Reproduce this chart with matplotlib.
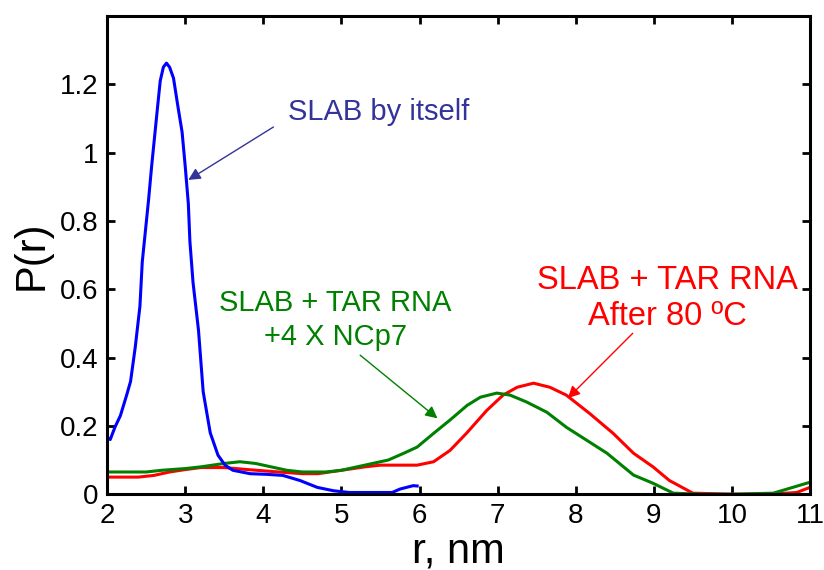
import matplotlib
matplotlib.use('Agg')
import matplotlib.pyplot as plt
from matplotlib.ticker import FuncFormatter

plt.rcParams['font.family'] = ['Liberation Sans', 'DejaVu Sans']

# SLAB by itself
r_blue = [2.0, 2.04, 2.1, 2.17, 2.25, 2.3, 2.36, 2.42, 2.45, 2.53, 2.57, 2.64,
          2.68, 2.72, 2.76, 2.8, 2.85, 2.91, 2.96, 3.0, 3.04, 3.06, 3.1, 3.17,
          3.23, 3.32, 3.42, 3.51, 3.61, 3.83, 4.05, 4.25, 4.47, 4.69, 4.9,
          5.1, 5.4, 5.65, 5.75, 5.92, 5.97]
p_blue = [0.167, 0.16, 0.196, 0.23, 0.29, 0.33, 0.43, 0.55, 0.68, 0.86, 0.96,
          1.12, 1.21, 1.25, 1.262, 1.25, 1.218, 1.13, 1.06, 0.96, 0.85, 0.74,
          0.62, 0.48, 0.30, 0.18, 0.114, 0.085, 0.07, 0.06, 0.058, 0.055,
          0.04, 0.02, 0.01, 0.005, 0.005, 0.005, 0.015, 0.025, 0.024]

# SLAB + TAR RNA + 4 X NCp7
r_green = [2.0, 2.5, 2.7, 3.0, 3.2, 3.5, 3.7, 3.9, 4.1, 4.3, 4.5, 4.8, 5.0,
           5.3, 5.6, 5.8, 5.97, 6.18, 6.39, 6.61, 6.78, 6.99, 7.16, 7.37, 7.63,
           7.88, 8.14, 8.4, 8.74, 8.99, 9.25, 9.6, 10.0, 10.53, 10.78, 11.0]
p_green = [0.065, 0.065, 0.07, 0.075, 0.08, 0.09, 0.095, 0.09, 0.08, 0.07,
           0.065, 0.065, 0.07, 0.085, 0.1, 0.12, 0.138, 0.178, 0.217, 0.26,
           0.284, 0.296, 0.29, 0.27, 0.24, 0.196, 0.158, 0.12, 0.056, 0.032,
           0.003, 0.0, 0.0, 0.003, 0.02, 0.035]

# SLAB + TAR RNA after 80 C
r_red = [2.0, 2.4, 2.6, 2.8, 3.0, 3.2, 3.5, 3.8, 4.2, 4.5, 4.7, 5.0, 5.3, 5.5,
         5.97, 6.18, 6.39, 6.6, 6.86, 7.07, 7.25, 7.46, 7.67, 7.88, 8.18, 8.48,
         8.74, 8.99, 9.2, 9.5, 10.0, 10.5, 10.83, 11.0]
p_red = [0.05, 0.05, 0.055, 0.065, 0.072, 0.078, 0.078, 0.072, 0.065, 0.06,
         0.06, 0.07, 0.08, 0.085, 0.085, 0.095, 0.128, 0.178, 0.245, 0.29,
         0.313, 0.325, 0.313, 0.29, 0.236, 0.178, 0.12, 0.08, 0.04, 0.003,
         0.0, 0.0, 0.005, 0.02]

fig = plt.figure(figsize=(8.24, 5.70), dpi=100)
ax = fig.add_axes([0.130, 0.133, 0.853, 0.839])

ax.plot(r_red, p_red, color='#ff0000', lw=2.2)
ax.plot(r_green, p_green, color='#008000', lw=2.2)
ax.plot(r_blue, p_blue, color='#0000ff', lw=2.2)

ax.set_xlim(2, 11)
ax.set_ylim(0, 1.4)
ax.set_xticks(range(2, 12))
ax.set_yticks([0, 0.2, 0.4, 0.6, 0.8, 1.0, 1.2])
ax.yaxis.set_major_formatter(FuncFormatter(lambda v, p: '%g' % round(v, 2)))
ax.tick_params(direction='in', top=True, right=True, length=6, width=2,
               labelsize=20, pad=6)
for s in ax.spines.values():
    s.set_linewidth(2.2)

ax.set_xlabel('r, nm', fontsize=30, labelpad=2)
ax.set_ylabel('P(r)', fontsize=30, labelpad=6)

arrow = dict(arrowstyle='-|>', lw=1, mutation_scale=18, shrinkA=0, shrinkB=0)

ax.annotate('', xy=(3.04, 0.92), xytext=(4.13, 1.075),
            arrowprops=dict(arrow, color='#333399'))
ax.text(4.32, 1.118, 'SLAB by itself', color='#333399', fontsize=21,
        ha='left', va='center')

ax.annotate('', xy=(6.23, 0.222), xytext=(5.24, 0.407),
            arrowprops=dict(arrow, color='#008000'))
ax.text(4.92, 0.51, 'SLAB + TAR RNA\n+4 X NCp7', color='#008000',
        fontsize=21, ha='center', va='center', linespacing=1.25)

ax.annotate('', xy=(7.90, 0.281), xytext=(8.73, 0.471),
            arrowprops=dict(arrow, color='#ff0000'))
ax.text(9.17, 0.573, 'SLAB + TAR RNA\nAfter 80 \u00baC', color='#ff0000',
        fontsize=23.5, ha='center', va='center', linespacing=1.2)

fig.savefig('out.png', dpi=100)
